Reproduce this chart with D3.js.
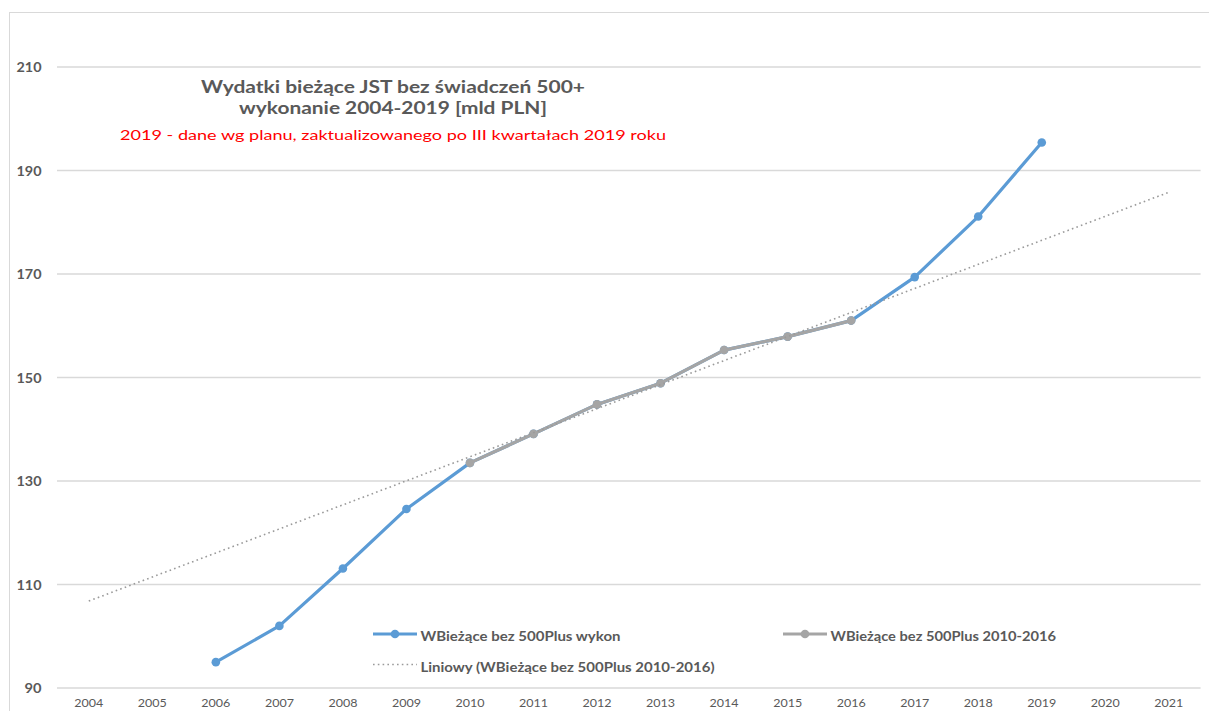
<!DOCTYPE html>
<html><head><meta charset="utf-8">
<script src="https://cdn.jsdelivr.net/npm/d3@7"></script>
<style>html,body{margin:0;padding:0;background:#fff;}svg{display:block;}</style>
</head><body>
<script>
const years = ["2004","2005","2006","2007","2008","2009","2010","2011","2012","2013","2014","2015","2016","2017","2018","2019","2020","2021"];
const wykonYears = ["2006","2007","2008","2009","2010","2011","2012","2013","2014","2015","2016","2017","2018","2019"];
const wykonValues = [95.0,102.0,113.1,124.6,133.5,139.1,144.8,148.9,155.3,157.9,161.0,169.4,181.1,195.4];
const okresYears = ["2010","2011","2012","2013","2014","2015","2016"];
const okresValues = [133.5,139.1,144.8,148.9,155.3,157.9,161.0];
const trendYears = ["2004","2021"];
const trendValues = [106.8,185.8];
const yTicks = [90,110,130,150,170,190,210];
const titleLines = ["Wydatki bieżące JST bez świadczeń 500+","wykonanie 2004-2019 [mld PLN]"];
const subtitle = "2019 - dane wg planu, zaktualizowanego po III kwartałach 2019 roku";
const legendLabels = ["WBieżące bez 500Plus wykon","WBieżące bez 500Plus 2010-2016","Liniowy (WBieżące bez 500Plus 2010-2016)"];

const W = 1209, H = 711;
const FONT = "Lato, 'Open Sans', sans-serif";
const BLUE = "#5B9BD5", GRAY = "#A5A5A5", TXT = "#595959";

const svg = d3.select("body").append("svg").attr("width", W).attr("height", H);

// chart frame
svg.append("rect").attr("x", 9.5).attr("y", 12.5).attr("width", 1300).attr("height", 800)
  .attr("fill", "#fff").attr("stroke", "#d9d9d9").attr("stroke-width", 1);

const x = d3.scaleBand().domain(years).range([57, 1200.6]);
const y = d3.scaleLinear().domain([90, 210]).range([688, 67]);
const cx = d => x(d) + x.bandwidth() / 2;

// gridlines
svg.append("g").selectAll("line").data(yTicks).join("line")
  .attr("x1", 57).attr("x2", 1200.6)
  .attr("y1", d => y(d)).attr("y2", d => y(d))
  .attr("stroke", "#d9d9d9").attr("stroke-width", 1.5);

// y axis labels
const yAxis = d3.axisLeft(y).tickValues(yTicks).tickSize(0).tickPadding(0);
const gy = svg.append("g").attr("transform", "translate(41.5,0)").call(yAxis);
gy.select(".domain").remove();
gy.selectAll("text").attr("font-family", FONT).attr("font-size", 13).attr("font-weight", "bold")
  .attr("fill", TXT).attr("dy", "0.36em")
  .attr("textLength", d => d >= 100 ? 25 : 17).attr("lengthAdjust", "spacingAndGlyphs");

// x axis labels
const xAxis = d3.axisBottom(x).tickSize(0).tickPadding(0);
const gx = svg.append("g").attr("transform", "translate(0,707)").call(xAxis);
gx.select(".domain").remove();
gx.selectAll("text").attr("font-family", FONT).attr("font-size", 12).attr("fill", TXT).attr("dy", "0")
  .attr("textLength", 29).attr("lengthAdjust", "spacingAndGlyphs");

// series
const line = d3.line().x(d => cx(d[0])).y(d => y(d[1]));
const wykon = wykonYears.map((d, i) => [d, wykonValues[i]]);
const okres = okresYears.map((d, i) => [d, okresValues[i]]);
const trend = trendYears.map((d, i) => [d, trendValues[i]]);

svg.append("path").datum(wykon).attr("d", line).attr("fill", "none").attr("stroke", BLUE)
  .attr("stroke-width", 3.2).attr("stroke-linejoin", "round");
svg.append("g").selectAll("circle").data(wykon).join("circle")
  .attr("cx", d => cx(d[0])).attr("cy", d => y(d[1])).attr("r", 4.3).attr("fill", BLUE);

svg.append("path").datum(okres).attr("d", line).attr("fill", "none").attr("stroke", GRAY)
  .attr("stroke-width", 3.2).attr("stroke-linejoin", "round");
svg.append("g").selectAll("circle").data(okres).join("circle")
  .attr("cx", d => cx(d[0])).attr("cy", d => y(d[1])).attr("r", 4.3).attr("fill", GRAY);

svg.append("path").datum(trend).attr("d", line).attr("fill", "none").attr("stroke", "#9a9a9a")
  .attr("stroke-width", 1.6).attr("stroke-dasharray", "1.6,3.2");

// title
function fitText(xx, yy, str, len, size, weight, color) {
  svg.append("text").attr("x", xx).attr("y", yy).attr("text-anchor", "middle")
    .attr("font-family", FONT).attr("font-size", size).attr("font-weight", weight).attr("fill", color)
    .attr("textLength", len).attr("lengthAdjust", "spacingAndGlyphs")
    .text(str);
}
fitText(393, 92.5, titleLines[0], 384, 16.5, "bold", TXT);
fitText(393, 114, titleLines[1], 308, 16.5, "bold", TXT);
fitText(393, 140, subtitle, 546, 14, "normal", "#FF0000");

// legend
const lg = svg.append("g");
function legendItem(x0, yy, color, label, dotted, len) {
  const g = lg.append("g");
  g.append("line").attr("x1", x0).attr("x2", x0 + 44).attr("y1", yy).attr("y2", yy)
    .attr("stroke", dotted ? "#9a9a9a" : color).attr("stroke-width", dotted ? 1.6 : 3.2)
    .attr("stroke-dasharray", dotted ? "1.6,3.2" : null);
  if (!dotted) g.append("circle").attr("cx", x0 + 22).attr("cy", yy).attr("r", 4.3).attr("fill", color);
  g.append("text").attr("x", x0 + 47.5).attr("y", yy + 7)
    .attr("font-family", FONT).attr("font-size", 12.5).attr("font-weight", "bold").attr("fill", TXT)
    .attr("textLength", len).attr("lengthAdjust", "spacingAndGlyphs")
    .text(label);
}
legendItem(373, 634, BLUE, legendLabels[0], false, 200);
legendItem(783, 634, GRAY, legendLabels[1], false, 225.5);
legendItem(373, 664.5, GRAY, legendLabels[2], true, 294);
</script>
</body></html>
